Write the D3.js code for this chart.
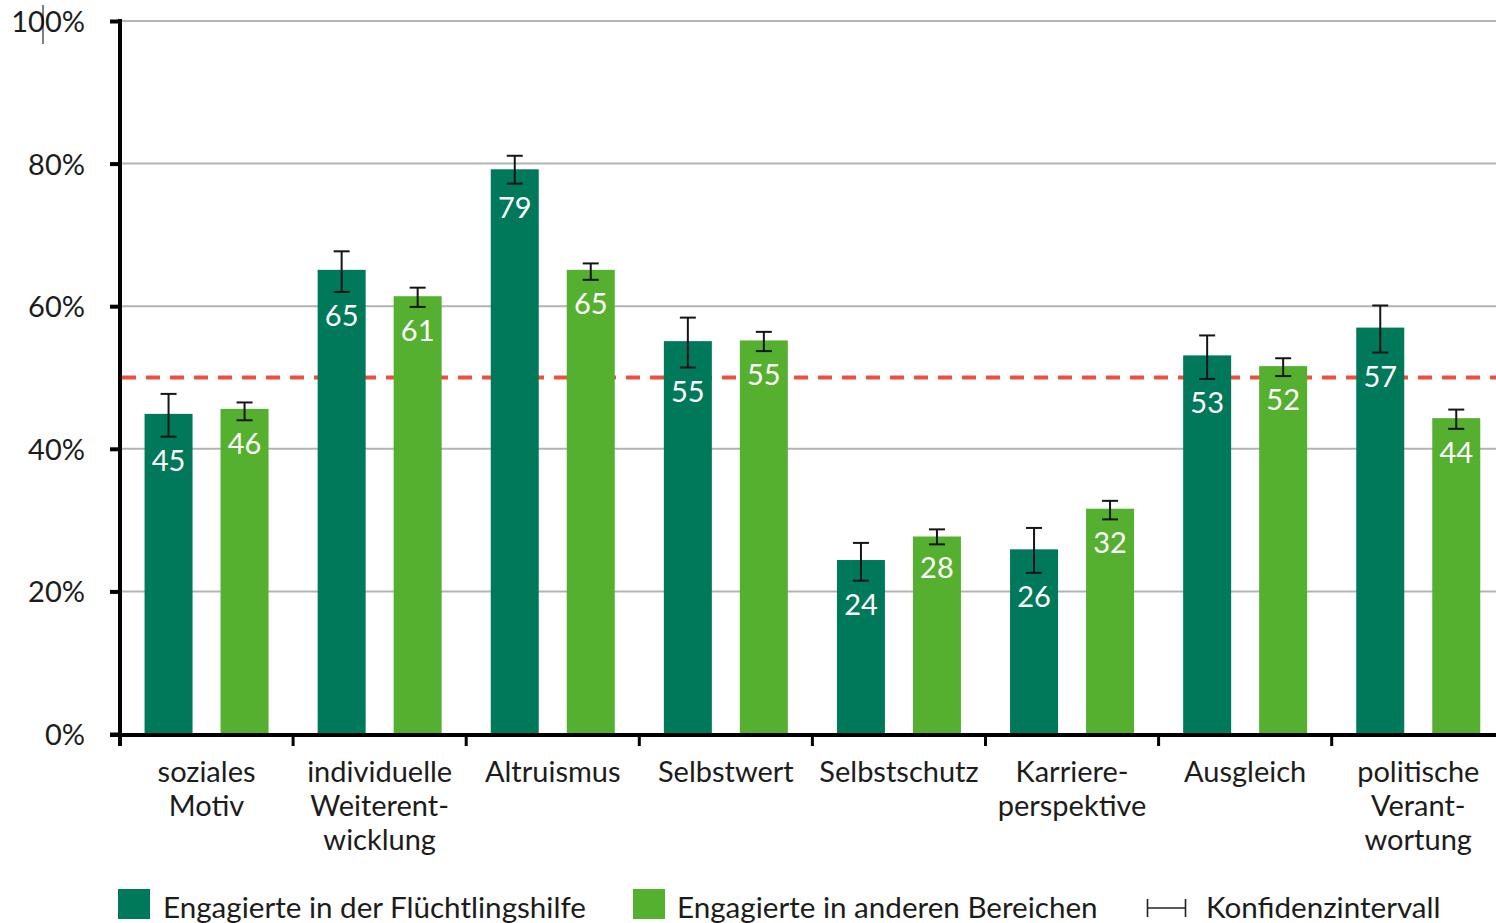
<!DOCTYPE html>
<html>
<head>
<meta charset="utf-8">
<script src="https://cdn.jsdelivr.net/npm/d3@7"></script>
<style>
  html, body { margin: 0; padding: 0; background: #fff; }
  svg { display: block; font-family: Lato, "Open Sans", "Noto Sans", sans-serif; }
</style>
</head>
<body>
<svg id="chart" width="1496" height="923"></svg>
<script>
// ---- data ----
const categories = [
  ["soziales", "Motiv"],
  ["individuelle", "Weiterent-", "wicklung"],
  ["Altruismus"],
  ["Selbstwert"],
  ["Selbstschutz"],
  ["Karriere-", "perspektive"],
  ["Ausgleich"],
  ["politische", "Verant-", "wortung"]
];
const seriesNames = ["Engagierte in der Flüchtlingshilfe", "Engagierte in anderen Bereichen"];
const refugeeValues = [44.9, 65.1, 79.2, 55.1, 24.4, 25.9, 53.1, 57.0];
const refugeeLow    = [41.7, 62.0, 77.2, 51.4, 21.5, 22.6, 49.8, 53.5];
const refugeeHigh   = [47.7, 67.7, 81.1, 58.4, 26.8, 28.9, 55.9, 60.1];
const otherValues   = [45.6, 61.4, 65.1, 55.2, 27.7, 31.6, 51.6, 44.3];
const otherLow      = [44.0, 59.9, 63.7, 53.7, 26.6, 30.1, 50.2, 42.8];
const otherHigh     = [46.5, 62.6, 66.0, 56.4, 28.7, 32.7, 52.7, 45.5];
const yTicks = [0, 20, 40, 60, 80, 100];
const referenceLine = 50;
const ciLabel = "Konfidenzintervall";

// ---- styles ----
const colors = ["#00785a", "#56b030"];
const textColor = "#1c1c1c";

const svg = d3.select("#chart");
const W = 1496;

const x0 = d3.scaleBand()
  .domain(d3.range(categories.length))
  .range([120, 120 + 173.1 * categories.length])
  .paddingInner(0).paddingOuter(0);

const x1 = d3.scaleBand()
  .domain([0, 1])
  .range([-62, 62])
  .paddingInner(0.3684)
  .paddingOuter(0);

const y = d3.scaleLinear().domain([0, 100]).range([734, 21]);

const rows = categories.map((c, i) => ({
  i,
  lines: c,
  bars: [
    { s: 0, v: refugeeValues[i], lo: refugeeLow[i], hi: refugeeHigh[i] },
    { s: 1, v: otherValues[i], lo: otherLow[i], hi: otherHigh[i] }
  ]
}));

// gridlines
svg.append("g")
  .selectAll("line")
  .data(yTicks.filter(d => d > 0))
  .join("line")
  .attr("x1", 120).attr("x2", W)
  .attr("y1", d => y(d)).attr("y2", d => y(d))
  .attr("stroke", "#b3b3b3").attr("stroke-width", 2);

// reference dashed line (behind bars)
svg.append("line")
  .attr("x1", 122).attr("x2", W)
  .attr("y1", y(referenceLine)).attr("y2", y(referenceLine))
  .attr("stroke", "#e9503e").attr("stroke-width", 4)
  .attr("stroke-dasharray", "14,10");

// bars
const groups = svg.append("g").selectAll("g")
  .data(rows).join("g")
  .attr("transform", d => `translate(${x0(d.i) + x0.bandwidth() / 2},0)`);

groups.selectAll("rect")
  .data(d => d.bars).join("rect")
  .attr("x", d => x1(d.s))
  .attr("width", x1.bandwidth())
  .attr("y", d => y(d.v))
  .attr("height", d => y(0) - y(d.v))
  .attr("fill", d => colors[d.s]);

// error bars
const eb = groups.selectAll("g.eb")
  .data(d => d.bars).join("g").attr("class", "eb")
  .attr("stroke", "#151515").attr("stroke-width", 2);
const cx = d => x1(d.s) + x1.bandwidth() / 2;
eb.append("line").attr("x1", cx).attr("x2", cx)
  .attr("y1", d => y(d.hi)).attr("y2", d => y(d.lo));
eb.append("line").attr("x1", d => cx(d) - 8).attr("x2", d => cx(d) + 8)
  .attr("y1", d => y(d.hi)).attr("y2", d => y(d.hi));
eb.append("line").attr("x1", d => cx(d) - 8).attr("x2", d => cx(d) + 8)
  .attr("y1", d => y(d.lo)).attr("y2", d => y(d.lo));

// value labels
groups.selectAll("text.val")
  .data(d => d.bars).join("text").attr("class", "val")
  .attr("x", cx)
  .attr("y", d => y(d.lo) + 34)
  .attr("text-anchor", "middle")
  .attr("fill", "#ffffff")
  .attr("font-size", 29)
  .text(d => d3.format(".0f")(d.v));

// y axis
const yAxis = svg.append("g").attr("transform", "translate(120,0)")
  .call(d3.axisLeft(y).tickValues(yTicks).tickFormat(d => d + "%").tickSize(10).tickPadding(25));
yAxis.select(".domain").remove();
yAxis.selectAll(".tick line").attr("stroke", "#000").attr("stroke-width", 4);
yAxis.selectAll(".tick text")
  .attr("font-size", 29).attr("fill", textColor)
  .attr("font-family", "Lato, 'Open Sans', sans-serif")
  .attr("dy", "0.36em");
svg.append("line").attr("x1", 120).attr("x2", 120)
  .attr("y1", y(100) - 2).attr("y2", 746)
  .attr("stroke", "#000").attr("stroke-width", 4);

// x axis
svg.append("line").attr("x1", 110).attr("x2", W)
  .attr("y1", 735).attr("y2", 735)
  .attr("stroke", "#000").attr("stroke-width", 4);
svg.append("g").selectAll("line")
  .data(d3.range(categories.length))
  .join("line")
  .attr("x1", d => x0(d)).attr("x2", d => x0(d))
  .attr("y1", 735).attr("y2", 746)
  .attr("stroke", "#000").attr("stroke-width", 3);

// category labels
const cl = svg.append("g").selectAll("text")
  .data(rows).join("text")
  .attr("text-anchor", "middle")
  .attr("font-size", 29)
  .attr("fill", textColor)
  .attr("transform", d => `translate(${x0(d.i) + x0.bandwidth() / 2},782)`);
cl.selectAll("tspan").data(d => d.lines).join("tspan")
  .attr("x", 0).attr("y", (d, i) => i * 34)
  .text(d => d);

// cursor artefact near the top label
svg.append("line").attr("x1", 43).attr("x2", 43).attr("y1", 5).attr("y2", 44)
  .attr("stroke", "#000").attr("stroke-width", 1);

// legend
const legend = svg.append("g");
const legendItems = [
  { x: 118, tx: 163, label: seriesNames[0], c: colors[0] },
  { x: 633, tx: 677, label: seriesNames[1], c: colors[1] }
];
legend.selectAll("rect").data(legendItems).join("rect")
  .attr("x", d => d.x).attr("y", 889).attr("width", 32).attr("height", 30)
  .attr("fill", d => d.c);
legend.selectAll("text.lt").data(legendItems).join("text").attr("class", "lt")
  .attr("x", d => d.tx).attr("y", 918)
  .attr("font-size", 29.6).attr("fill", textColor)
  .text(d => d.label);
const ci = legend.append("g").attr("stroke", "#222").attr("stroke-width", 1.6);
ci.append("line").attr("x1", 1147).attr("x2", 1186).attr("y1", 908).attr("y2", 908);
ci.append("line").attr("x1", 1147.5).attr("x2", 1147.5).attr("y1", 899).attr("y2", 917);
ci.append("line").attr("x1", 1185.5).attr("x2", 1185.5).attr("y1", 899).attr("y2", 917);
legend.append("text").attr("x", 1206).attr("y", 918)
  .attr("font-size", 29.6).attr("fill", textColor)
  .text(ciLabel);
</script>
</body>
</html>
